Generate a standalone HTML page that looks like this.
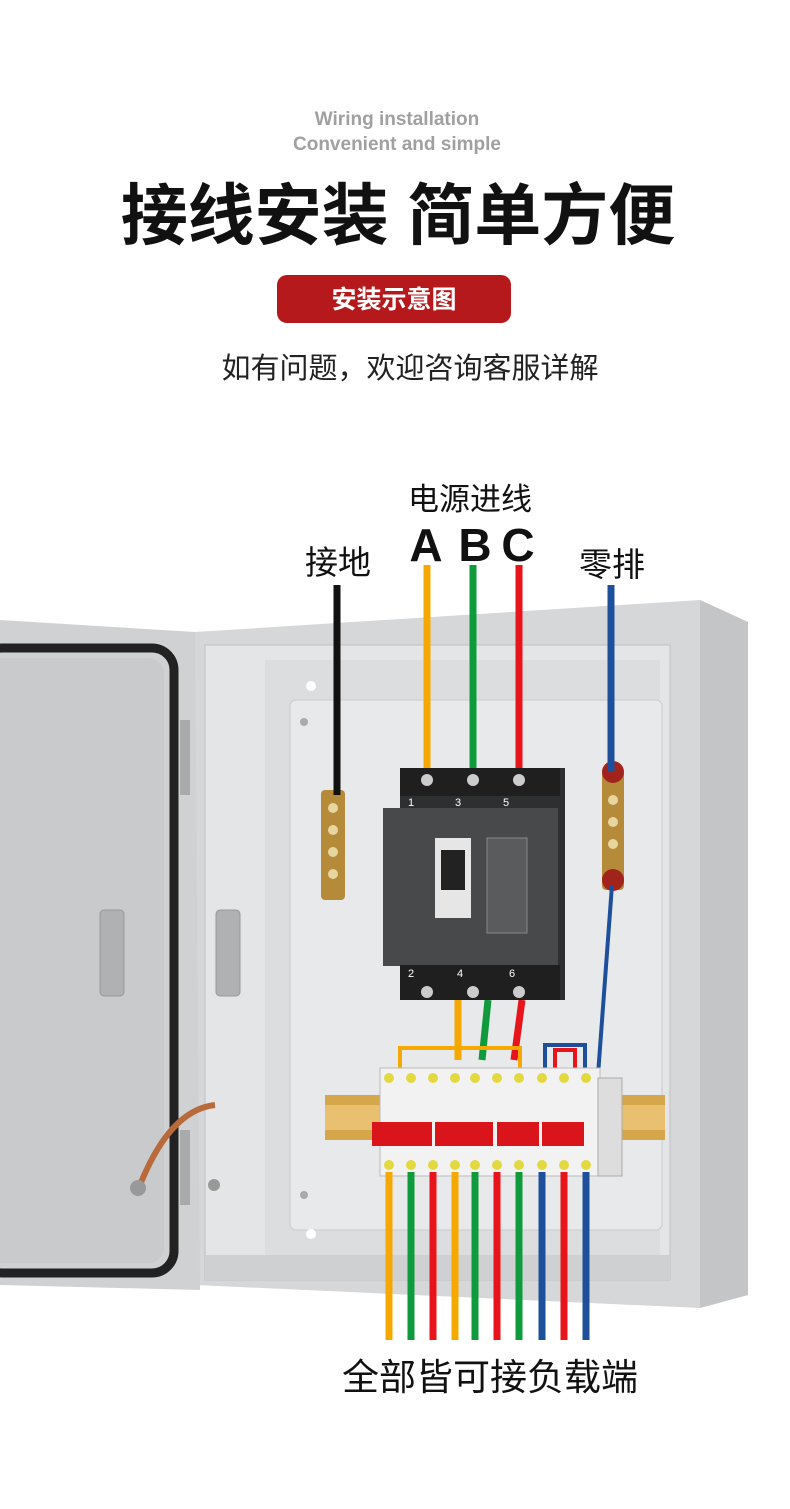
<!DOCTYPE html>
<html><head><meta charset="utf-8"><style>
body{margin:0;width:790px;height:1509px;background:#fff;overflow:hidden;font-family:"Liberation Sans","Noto Sans CJK SC",sans-serif}
</style></head><body>
<svg width="790" height="1509" viewBox="0 0 790 1509" xmlns="http://www.w3.org/2000/svg" style="display:block">
<g font-family="Liberation Sans, Noto Sans CJK SC, sans-serif" text-anchor="middle">
<text x="397" y="125" font-size="19" font-weight="bold" fill="#a0a0a0">Wiring installation</text>
<text x="397" y="150" font-size="19" font-weight="bold" fill="#a0a0a0">Convenient and simple</text>
<text x="398" y="239" font-size="67" font-weight="bold" fill="#111">接线安装 简单方便</text>
<rect x="277" y="275" width="234" height="48" rx="10" fill="#b5191c"/>
<text x="394" y="308" font-size="25" font-weight="bold" fill="#fff">安装示意图</text>
<text x="410" y="378" font-size="29" fill="#222">如有问题，欢迎咨询客服详解</text>
<text x="470" y="510" font-size="31" fill="#111">电源进线</text>
<text x="426" y="561" font-size="46" font-weight="bold" fill="#111">A</text>
<text x="475" y="561" font-size="46" font-weight="bold" fill="#111">B</text>
<text x="518" y="561" font-size="46" font-weight="bold" fill="#111">C</text>
<text x="338" y="574" font-size="33" fill="#111">接地</text>
<text x="612" y="576" font-size="33" fill="#111">零排</text>
<text x="490" y="1390" font-size="37" fill="#111">全部皆可接负载端</text>
</g>
<polygon points="195,632 700,600 748,622 748,1295 700,1308 195,1285" fill="#d6d7d8"/>
<polygon points="700,600 748,622 748,1295 700,1308" fill="#c4c5c7"/>
<rect x="205" y="645" width="465" height="635" fill="#e4e5e6" stroke="#bfc0c2"/>
<rect x="265" y="660" width="395" height="600" fill="#dcddde"/>
<rect x="290" y="700" width="372" height="530" rx="6" fill="#e8e9ea" stroke="#c9cacc"/>
<rect x="205" y="1255" width="465" height="25" fill="#cfd0d1"/>
<circle cx="311" cy="686" r="5" fill="#fff"/><circle cx="311" cy="1234" r="5" fill="#fff"/>
<circle cx="304" cy="722" r="4" fill="#aaa"/><circle cx="304" cy="1195" r="4" fill="#aaa"/>
<polygon points="0,620 195,632 200,1290 0,1285" fill="#d0d1d2"/>
<rect x="-20" y="648" width="194" height="625" rx="22" fill="none" stroke="#222" stroke-width="9"/>
<rect x="-20" y="658" width="184" height="605" rx="16" fill="#c9cacc"/>
<rect x="100" y="910" width="24" height="86" rx="4" fill="#b0b1b3" stroke="#999"/>
<rect x="216" y="910" width="24" height="86" rx="4" fill="#b0b1b3" stroke="#999"/>
<rect x="180" y="720" width="10" height="75" fill="#a9aaac"/><rect x="180" y="1130" width="10" height="75" fill="#a9aaac"/>
<path d="M140,1185 Q170,1110 215,1105" stroke="#b96a3a" stroke-width="6" fill="none"/>
<circle cx="138" cy="1188" r="8" fill="#999"/><circle cx="214" cy="1185" r="6" fill="#999"/>
<rect x="321" y="790" width="24" height="110" rx="4" fill="#b58b3a"/>
<g fill="#e7d6a0"><circle cx="333" cy="808" r="5"/><circle cx="333" cy="830" r="5"/><circle cx="333" cy="852" r="5"/><circle cx="333" cy="874" r="5"/></g>
<rect x="602" y="770" width="22" height="120" rx="4" fill="#b58b3a"/>
<circle cx="613" cy="772" r="11" fill="#a2221c"/><circle cx="613" cy="880" r="11" fill="#a2221c"/>
<g fill="#e7d6a0"><circle cx="613" cy="800" r="5"/><circle cx="613" cy="822" r="5"/><circle cx="613" cy="844" r="5"/></g>
<g stroke-width="7" fill="none">
<line x1="337" y1="585" x2="337" y2="795" stroke="#111"/>
<line x1="427" y1="565" x2="427" y2="780" stroke="#f5a800"/>
<line x1="473" y1="565" x2="473" y2="780" stroke="#0f9a3c"/>
<line x1="519" y1="565" x2="519" y2="780" stroke="#e8141b"/>
<line x1="611" y1="585" x2="611" y2="772" stroke="#1d4f9a"/>
<path d="M612,885 L598,1075" stroke="#1d4f9a" stroke-width="4"/>
<path d="M458,1000 L458,1060" stroke="#f5a800"/><path d="M488,1000 L482,1060" stroke="#0f9a3c"/><path d="M522,1000 L514,1060" stroke="#e8141b"/>
<path d="M400,1075 V1048 H520 V1075" stroke="#f5a800" stroke-width="4"/>
<path d="M545,1075 V1045 H585 V1075" stroke="#1d4f9a" stroke-width="4"/>
<path d="M555,1075 V1050 H575 V1075" stroke="#e8141b" stroke-width="4"/>
</g>
<rect x="400" y="768" width="165" height="232" fill="#2e2f31"/>
<rect x="383" y="808" width="175" height="158" fill="#48494b"/>
<rect x="400" y="768" width="160" height="28" fill="#1f1f20"/>
<rect x="400" y="965" width="160" height="35" fill="#1f1f20"/>
<rect x="435" y="838" width="36" height="80" fill="#e6e6e6"/><rect x="441" y="850" width="24" height="40" fill="#222"/>
<rect x="487" y="838" width="40" height="95" fill="#5a5b5d" stroke="#888"/>
<g fill="#fff" font-size="11" font-family="Liberation Sans" text-anchor="middle"><text x="411" y="806">1</text><text x="458" y="806">3</text><text x="506" y="806">5</text><text x="411" y="977">2</text><text x="460" y="977">4</text><text x="512" y="977">6</text></g>
<g fill="#ccc"><circle cx="427" cy="780" r="6"/><circle cx="473" cy="780" r="6"/><circle cx="519" cy="780" r="6"/><circle cx="427" cy="992" r="6"/><circle cx="473" cy="992" r="6"/><circle cx="519" cy="992" r="6"/></g>
<rect x="325" y="1095" width="340" height="45" fill="#d5a64a"/>
<rect x="325" y="1105" width="340" height="25" fill="#e8c070"/>
<rect x="380" y="1068" width="220" height="108" fill="#f2f2f2" stroke="#bbb"/>
<rect x="598" y="1078" width="24" height="98" fill="#ddd" stroke="#aaa"/>
<g fill="#d9151b"><rect x="372" y="1122" width="60" height="24"/><rect x="435" y="1122" width="58" height="24"/><rect x="497" y="1122" width="42" height="24"/><rect x="542" y="1122" width="42" height="24"/></g>
<g fill="#e2d840"><circle cx="389" cy="1078" r="5"/><circle cx="411" cy="1078" r="5"/><circle cx="433" cy="1078" r="5"/><circle cx="455" cy="1078" r="5"/><circle cx="475" cy="1078" r="5"/><circle cx="497" cy="1078" r="5"/><circle cx="519" cy="1078" r="5"/><circle cx="542" cy="1078" r="5"/><circle cx="564" cy="1078" r="5"/><circle cx="586" cy="1078" r="5"/>
<circle cx="389" cy="1165" r="5"/><circle cx="411" cy="1165" r="5"/><circle cx="433" cy="1165" r="5"/><circle cx="455" cy="1165" r="5"/><circle cx="475" cy="1165" r="5"/><circle cx="497" cy="1165" r="5"/><circle cx="519" cy="1165" r="5"/><circle cx="542" cy="1165" r="5"/><circle cx="564" cy="1165" r="5"/><circle cx="586" cy="1165" r="5"/></g>
<g stroke-width="7">
<line x1="389" y1="1172" x2="389" y2="1340" stroke="#f5a800"/>
<line x1="411" y1="1172" x2="411" y2="1340" stroke="#0f9a3c"/>
<line x1="433" y1="1172" x2="433" y2="1340" stroke="#e8141b"/>
<line x1="455" y1="1172" x2="455" y2="1340" stroke="#f5a800"/>
<line x1="475" y1="1172" x2="475" y2="1340" stroke="#0f9a3c"/>
<line x1="497" y1="1172" x2="497" y2="1340" stroke="#e8141b"/>
<line x1="519" y1="1172" x2="519" y2="1340" stroke="#0f9a3c"/>
<line x1="542" y1="1172" x2="542" y2="1340" stroke="#1d4f9a"/>
<line x1="564" y1="1172" x2="564" y2="1340" stroke="#e8141b"/>
<line x1="586" y1="1172" x2="586" y2="1340" stroke="#1d4f9a"/>
</g>
</svg>
</body></html>
